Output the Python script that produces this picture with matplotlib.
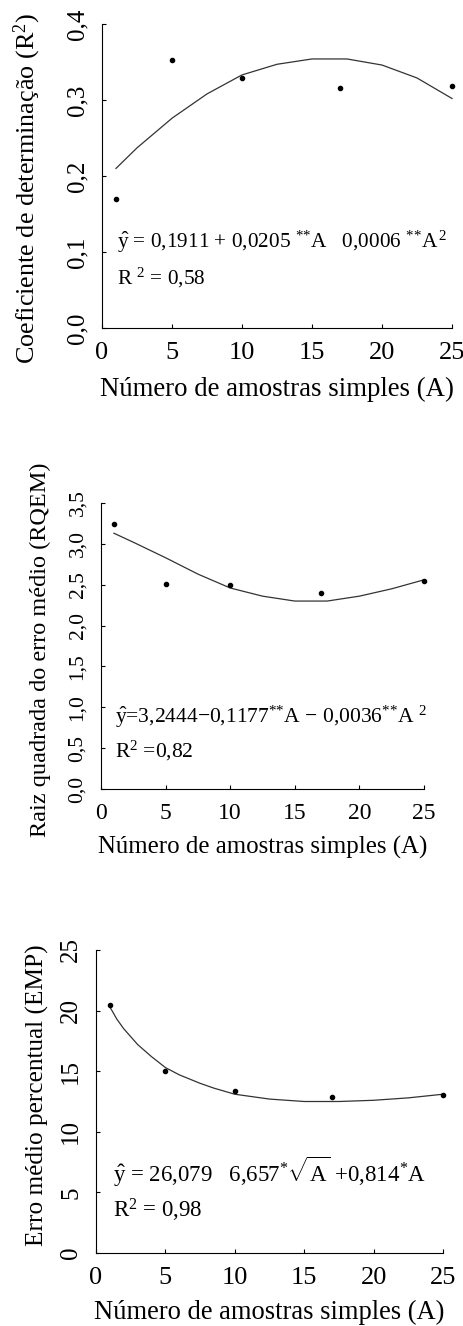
import numpy as np
import matplotlib
matplotlib.use('Agg')
import matplotlib.pyplot as plt

plt.rcParams['font.family'] = 'Liberation Serif'
plt.rcParams['mathtext.fontset'] = 'custom'
plt.rcParams['mathtext.rm'] = 'Liberation Serif'
plt.rcParams['mathtext.it'] = 'Liberation Serif:italic'

#%% Data

amostras = [1, 5, 10, 17, 25]

# Coeficiente de determinacao (R2)
r2_obs = [0.170, 0.352, 0.329, 0.316, 0.319]
r2_fit_a = [1, 2.5, 5, 7.5, 10, 12.5, 15, 17.5, 20, 22.5, 25]
r2_fit = [0.210, 0.237, 0.276, 0.308, 0.333, 0.347, 0.354, 0.354, 0.346, 0.329, 0.302]

# RQEM
rqem_obs = [3.24, 2.51, 2.50, 2.40, 2.55]
rqem_fit_a = [1, 2.5, 5, 7.5, 10, 12.5, 15, 17.5, 20, 22.5, 25]
rqem_fit = [3.13, 3.02, 2.83, 2.63, 2.46, 2.36, 2.30, 2.30, 2.36, 2.45, 2.56]

# EMP
emp_obs = [20.5, 15.0, 13.4, 12.9, 13.0]
emp_fit_a = [1, 1.5, 2, 3, 4, 5, 6, 7.5, 8.5, 10, 12.5, 15, 17.5, 20, 22.5, 25]
emp_fit = [20.3, 19.3, 18.5, 17.2, 16.2, 15.3, 14.7, 14.0, 13.6, 13.1, 12.7, 12.5, 12.5, 12.6, 12.8, 13.1]

xticks = [0, 5, 10, 15, 20, 25]
yticks1 = [0.0, 0.1, 0.2, 0.3, 0.4]
ylabels1 = ['0,0', '0,1', '0,2', '0,3', '0,4']
yticks2 = [0.0, 0.5, 1.0, 1.5, 2.0, 2.5, 3.0, 3.5]
ylabels2 = ['0,0', '0,5', '1,0', '1,5', '2,0', '2,5', '3,0', '3,5']
yticks3 = [0, 5, 10, 15, 20, 25]
ylabels3 = ['0', '5', '10', '15', '20', '25']

xlab = 'Número de amostras simples (A)'

#%% Figure

W, H = 464, 1326
fig = plt.figure(figsize=(W / 100, H / 100), dpi=100)


def painel(box, fit_a, obs, fit, yt, ylab_txt, ylabel, fs, eq, r2, eq_pos, r2_pos, ylab_xy, xpad):
    # fs = (ytick, xtick, xlabel, ylabel, texto)
    l, r, t, b = box
    ax = fig.add_axes([l / W, 1 - b / H, (r - l) / W, (b - t) / H])
    ax.plot(fit_a, fit, color='#333333', lw=0.9, clip_on=False)
    ax.plot(amostras, obs, 'o', color='black', ms=3, clip_on=False)
    ax.set_xlim(0, 25)
    ax.set_ylim(yt[0], yt[-1])
    ax.set_xticks(xticks)
    ax.set_yticks(yt)
    ax.set_yticklabels(ylab_txt, rotation=90, va='center')
    ax.tick_params(direction='in', length=3, width=0.8, pad=10)
    ax.tick_params(axis='y', labelsize=fs[0])
    ax.tick_params(axis='x', labelsize=fs[1])
    ax.spines['top'].set_visible(False)
    ax.spines['right'].set_visible(False)
    ax.set_xlabel(xlab, fontsize=fs[2], labelpad=xpad)
    ax.set_ylabel(ylabel, fontsize=fs[3], va='center')
    ax.yaxis.set_label_coords(*ylab_xy)
    ax.text(eq_pos[0], eq_pos[1], eq, fontsize=fs[4], va='center')
    ax.text(r2_pos[0], r2_pos[1], r2, fontsize=fs[4], va='center')
    return ax


painel((102, 452, 24, 328), r2_fit_a, r2_obs, r2_fit, yticks1, ylabels1,
       'Coeficiente de determinação (R$^{2}$)', (18, 19, 19.3, 18.8, 15.3),
       r'$\hat{\mathrm{y}}$ = 0,1911 + 0,0205 $^{\text{**}}$A   0,0006 $^{\text{**}}$A$^{\,2}$',
       r'R $^{2}$ = 0,58', (1.1, 0.113), (1.1, 0.066), (-0.214, 0.458), 9)

painel((101, 424, 503, 789), rqem_fit_a, rqem_obs, rqem_fit, yticks2, ylabels2,
       'Raiz quadrada do erro médio (RQEM)', (15.5, 17, 17.9, 17.5, 15.5),
       r'$\hat{\mathrm{y}}$=3,2444$-$0,1177$^{\text{**}}$A $-$ 0,0036$^{\text{**}}$A $^{2}$',
       r'R$^{2}$ =0,82', (1.1, 0.88), (1.1, 0.47), (-0.189, 0.486), 9)

painel((96, 443, 950, 1253), emp_fit_a, emp_obs, emp_fit, yticks3, ylabels3,
       'Erro médio percentual (EMP)', (18, 19, 19.1, 18.2, 16.5),
       r'$\hat{\mathrm{y}}$ = 26,079   6,657$^{\text{*}}$$\sqrt{\mathrm{A}}$ +0,814$^{\text{*}}$A',
       r'R$^{2}$ = 0,98', (1.2, 6.7), (1.2, 3.5), (-0.170, 0.52), 8)

fig.savefig('out.png', dpi=100)
